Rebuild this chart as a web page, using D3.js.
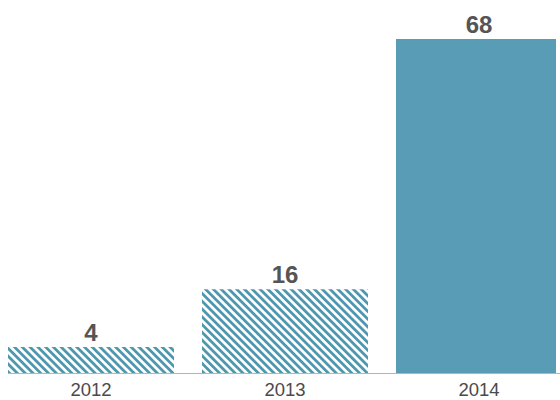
<!DOCTYPE html>
<html><head><meta charset="utf-8">
<script src="https://cdn.jsdelivr.net/npm/d3@7"></script>
<style>html,body{margin:0;padding:0;background:#fff;}svg{display:block;}</style>
</head><body>
<script>
const years = ["2012", "2013", "2014"];
const values = [4, 16, 68];
const hatched = [true, true, false];

const W = 560, H = 400;
const svg = d3.select("body").append("svg").attr("width", W).attr("height", H);

const defs = svg.append("defs");
const pat = defs.append("pattern").attr("id", "hatch")
  .attr("patternUnits", "userSpaceOnUse").attr("width", 5.5).attr("height", 5.5)
  .attr("patternTransform", "rotate(-45)");
pat.append("rect").attr("width", 5.5).attr("height", 5.5).attr("fill", "#ffffff");
pat.append("rect").attr("width", 2.8).attr("height", 5.5).attr("fill", "#4f97ae");
defs.append("clipPath").attr("id", "clip").append("rect")
  .attr("x", 0).attr("y", 0).attr("width", 556).attr("height", H);

const x = d3.scaleBand().domain(years).range([8, 562]).paddingInner(28 / 194).paddingOuter(0);
const y = d3.scaleLinear().domain([-1.4, 68]).range([373, 39]);

// axis baseline
svg.append("line").attr("x1", 8).attr("x2", W).attr("y1", 373.5).attr("y2", 373.5)
  .attr("stroke", "#b5b5b5").attr("stroke-width", 1);

const g = svg.append("g").attr("clip-path", "url(#clip)");
g.selectAll("rect.bar").data(values).join("rect").attr("class", "bar")
  .attr("x", (d, i) => x(years[i]))
  .attr("width", x.bandwidth())
  .attr("y", d => y(d))
  .attr("height", d => y(-1.4) - y(d))
  .attr("fill", (d, i) => hatched[i] ? "url(#hatch)" : "#589db5");

svg.selectAll("text.val").data(values).join("text").attr("class", "val")
  .attr("x", (d, i) => x(years[i]) + x.bandwidth() / 2)
  .attr("y", d => y(d) - 6)
  .attr("text-anchor", "middle")
  .attr("font-family", "Liberation Sans, Arial, sans-serif")
  .attr("font-weight", "bold").attr("font-size", 24).attr("fill", "#555555")
  .text(d => d);

svg.selectAll("text.year").data(years).join("text").attr("class", "year")
  .attr("x", d => x(d) + x.bandwidth() / 2)
  .attr("y", 396)
  .attr("text-anchor", "middle")
  .attr("font-family", "Liberation Sans, Arial, sans-serif")
  .attr("font-size", 18.5).attr("fill", "#4a4a4a")
  .text(d => d);
</script>
</body></html>
